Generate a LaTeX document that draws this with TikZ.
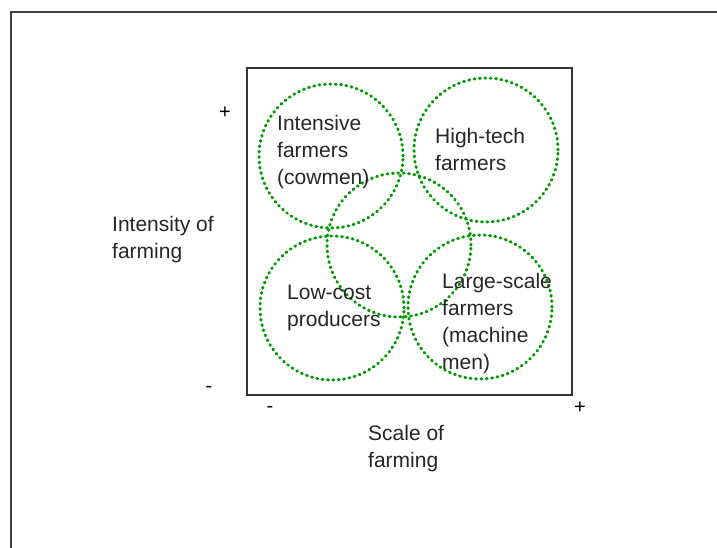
\documentclass[tikz,border=0pt]{standalone}
\usepackage{fontspec}
\setmainfont{Liberation Sans}
\begin{document}
\begin{tikzpicture}[x=1pt,y=-1pt,
    group/.style={circle,draw=green!60!black,line width=3pt,line cap=round,
      dash pattern=on 0.9pt off 4.5pt,minimum size=144pt,inner sep=0pt},
    lbl/.style={anchor=base west,align=left,inner sep=0pt,text=black!85,
      font=\fontsize{21}{27}\selectfont},
    sign/.style={inner sep=0pt,font=\fontsize{20}{22}\selectfont}]
      \useasboundingbox (0,0) rectangle (717,547);
      \draw[line width=1.3pt,black!75] (11,560) -- (11,12) -- (730,12);
      \draw[line width=1.5pt,black!80] (247,68) rectangle (572,395);
      \node[group] (cow) at (331,156) {};
      \node[group] (tech) at (486,150) {};
      \node[group] (mid) at (399,245) {};
      \node[group] (low) at (332,308) {};
      \node[group] (mach) at (480,307) {};
      % base anchor sits on the last line
      \node[lbl] (cowtxt) at (277,184) {Intensive\\farmers\\(cowmen)};
      \node[lbl] (techtxt) at (435,170) {High-tech\\farmers};
      \node[lbl] (lowtxt) at (287,326) {Low-cost\\producers};
      \node[lbl] (machtxt) at (442,369) {Large-scale\\farmers\\(machine\\men)};
      \node[lbl] (ylbl) at (112,258) {Intensity of\\farming};
      \node[lbl] (xlbl) at (368,467) {Scale of\\farming};
      \node[sign] (yplus) at (225,113) {+};
      \node[sign] (yminus) at (209,389) {-};
      \node[sign] (xminus) at (270,409) {-};
      \node[sign] (xplus) at (580,408) {+};
\end{tikzpicture}
\end{document}
